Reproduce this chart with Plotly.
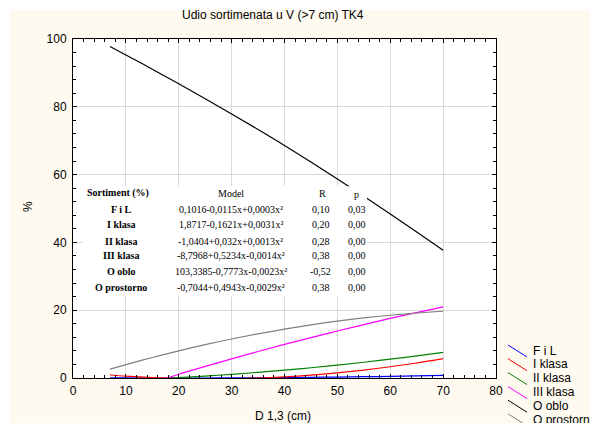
import plotly.graph_objects as go

# ---- data ----
x_full = [7, 10, 15, 20, 25, 30, 35, 40, 45, 50, 55, 60, 65, 70]
fil = [0.04, 0.02, 0.0, -0.01, 0.0, 0.03, 0.07, 0.12, 0.19, 0.28, 0.38, 0.49, 0.62, 0.77]
i_klasa = [0.89, 0.56, 0.14, -0.13, -0.24, -0.20, 0.0, 0.35, 0.85, 1.52, 2.33, 3.31, 4.43, 5.71]
x_ii = [18, 20, 25, 30, 35, 40, 45, 50, 55, 60, 65, 70]
ii_klasa = [0.0, 0.12, 0.57, 1.09, 1.67, 2.32, 3.03, 3.81, 4.65, 5.56, 6.53, 7.57]
x_iii = [17.8, 20, 25, 30, 35, 40, 45, 50, 55, 60, 65, 70]
iii_klasa = [0.0, 1.11, 3.41, 5.65, 7.81, 9.90, 11.92, 13.87, 15.76, 17.57, 19.31, 20.98]
o_oblo = [97.8, 95.3, 91.1, 86.8, 82.4, 77.9, 73.3, 68.6, 63.7, 58.7, 53.6, 48.4, 43.1, 37.7]
o_prostorno = [2.62, 3.95, 6.06, 8.02, 9.84, 11.51, 13.04, 14.43, 15.67, 16.76, 17.71, 18.51, 19.17, 19.69]

series_names = ["F i L", "I klasa", "II klasa", "III klasa", "O oblo", "O prostorno"]
series_colors = ["#0000FF", "#FF0000", "#008000", "#FF00FF", "#000000", "#808080"]
series_x = [x_full, x_full, x_ii, x_iii, x_full, x_full]
series_y = [fil, i_klasa, ii_klasa, iii_klasa, o_oblo, o_prostorno]

# table inside the chart
table_header = ["Sortiment (%)", "Model", "R", "p"]
table_sortiment = ["F i L", "I klasa", "II klasa", "III klasa", "O oblo", "O prostorno"]
table_model = ["0,1016-0,0115x+0,0003x²", "1,8717-0,1621x+0,0031x²", "-1,0404+0,032x+0,0013x²",
               "-8,7968+0,5234x-0,0014x²", "103,3385-0,7773x-0,0023x²", "-0,7044+0,4943x-0,0029x²"]
table_r = ["0,10", "0,20", "0,28", "0,38", "-0,52", "0,38"]
table_p = ["0,03", "0,00", "0,00", "0,00", "0,00", "0,00"]

title_text = "Udio sortimenata u V (>7 cm) TK4"
x_title = "D 1,3 (cm)"
y_title = "%"

fig = go.Figure()
for name, col, xs, ys in zip(series_names, series_colors, series_x, series_y):
    fig.add_trace(go.Scatter(x=xs, y=ys, mode="lines", name=name,
                             line=dict(color=col, width=1.2, shape="spline"),
                             showlegend=False))

# layout geometry (pixels)
L, R, T, B = 73, 94, 39, 45
W, H = 590, 423
pw, ph = W - L - R, H - T - B

def px(x):
    return (x - L) / pw

def py(y):
    return (H - B - y) / ph

annotations = []
shapes = []

# white strips at top/left of the page
shapes.append(dict(type="rect", xref="paper", yref="paper", x0=px(0), x1=px(W + 5), y0=py(10), y1=py(-5),
                   fillcolor="white", line=dict(width=0), layer="below"))
shapes.append(dict(type="rect", xref="paper", yref="paper", x0=px(-5), x1=px(10), y0=py(H + 5), y1=py(-5),
                   fillcolor="white", line=dict(width=0), layer="below"))

# table box
shapes.append(dict(type="rect", xref="x", yref="y", x0=1.9, x1=55.6, y0=24.0, y1=56.6,
                   fillcolor="white", line=dict(width=0), layer="above"))

serif = "Liberation Serif"
tf = dict(family=serif, size=10, color="black")
col_x = [8.6, 29.8, 47.1, 53.7]
header_y = 54.5
row_y = [49.8, 45.3, 40.4, 36.0, 31.4, 26.6]

annotations.append(dict(x=col_x[0], y=header_y, xref="x", yref="y", text="<b>" + table_header[0] + "</b>",
                        showarrow=False, font=tf))
annotations.append(dict(x=col_x[1], y=header_y, xref="x", yref="y", text=table_header[1], showarrow=False, font=tf))
annotations.append(dict(x=col_x[2], y=header_y, xref="x", yref="y", text=table_header[2], showarrow=False, font=tf))
annotations.append(dict(x=col_x[3], y=header_y - 0.3, xref="x", yref="y", text=table_header[3], showarrow=False, font=tf))
for i in range(len(table_sortiment)):
    annotations.append(dict(x=9.1, y=row_y[i], xref="x", yref="y", text="<b>" + table_sortiment[i] + "</b>",
                            showarrow=False, font=tf))
    annotations.append(dict(x=col_x[1], y=row_y[i], xref="x", yref="y", text=table_model[i], showarrow=False, font=tf))
    annotations.append(dict(x=46.9, y=row_y[i], xref="x", yref="y", text=table_r[i], showarrow=False, font=tf))
    annotations.append(dict(x=col_x[3], y=row_y[i], xref="x", yref="y", text=table_p[i], showarrow=False, font=tf))

sans = "Liberation Sans, Arial"
# title and axis titles
annotations.append(dict(x=px(272.5), y=py(15), xref="paper", yref="paper", text=title_text, showarrow=False,
                        font=dict(family=sans, size=12, color="black"), xanchor="center", yanchor="middle"))
annotations.append(dict(x=px(283), y=py(416), xref="paper", yref="paper", text=x_title, showarrow=False,
                        font=dict(family=sans, size=12, color="black"), xanchor="center", yanchor="middle"))
annotations.append(dict(x=px(28), y=py(207), xref="paper", yref="paper", text=y_title, showarrow=False,
                        textangle=-90, font=dict(family=sans, size=12, color="black"),
                        xanchor="center", yanchor="middle"))

# custom legend with diagonal samples
leg_y = [350.7, 364.4, 378.3, 392.3, 405.9, 419.5]
for name, col, ly in zip(series_names, series_colors, leg_y):
    shapes.append(dict(type="line", xref="paper", yref="paper", x0=px(508), x1=px(527),
                       y0=py(ly - 5.7), y1=py(ly + 6.3), line=dict(color=col, width=1)))
    annotations.append(dict(x=px(531), y=py(ly), xref="paper", yref="paper", text=name, showarrow=False,
                            xanchor="left", yanchor="middle", font=dict(family=sans, size=12, color="black")))

axis_common = dict(showline=True, linecolor="black", linewidth=1, mirror="ticks", ticks="inside",
                   ticklen=4, tickcolor="black", showgrid=True, gridcolor="#D9D9D9", gridwidth=1,
                   zeroline=False, tickfont=dict(family=sans, size=12, color="black"))

fig.update_layout(
    width=W, height=H,
    margin=dict(l=L, r=R, t=T, b=B, autoexpand=False),
    paper_bgcolor="#FFFAF0",
    plot_bgcolor="white",
    showlegend=False,
    xaxis=dict(range=[0, 80], dtick=10, tick0=0,
               minor=dict(dtick=2, ticks="inside", ticklen=3, tickcolor="black", showgrid=False),
               ticklabelstandoff=2, **axis_common),
    yaxis=dict(range=[0, 100], dtick=20, tick0=0,
               minor=dict(dtick=4, ticks="inside", ticklen=3, tickcolor="black", showgrid=False),
               ticklabelstandoff=3, **axis_common),
    annotations=annotations,
    shapes=shapes,
)

fig.write_html("out.html")
